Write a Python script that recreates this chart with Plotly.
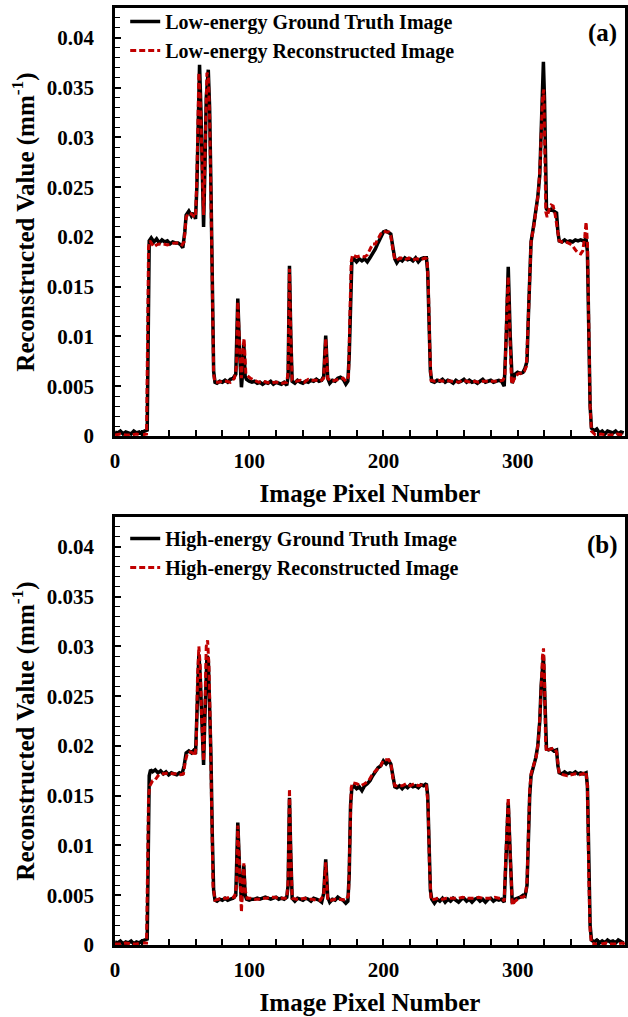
import plotly.graph_objects as go

# ---------------- data ----------------
# Panel (a) low-energy ground truth
gt_a_x = [0,2,4,6,8,10,12,14,16,18,20,22,24,25.5,27,29,31,33,35,37,39,41,43,45,47,49,50.5,52,53,55,57,58.5,60,61,63,64,65,66,67,68,69.5,70.5,71.5,72.5,73.5,74.5,76,78,80,82,84,86,88,90,91.5,93,94.2,95.2,96,97,98,100,102,104,106,108,110,112,114,116,118,120,122,124,126,128,129,130,131,132,134,136,138,140,142,144,146,148,150,152,154,155.5,157,158.5,160,162,164,166,168,170,172,173.5,174.5,175.5,176.5,178,180,182,184,186,188,190,192,194,196,198,200,202,204,205.5,207,208.5,210,212,214,216,218,220,222,224,226,228,230,232,233,234,235,236,238,240,242,244,246,248,250,252,254,256,258,260,262,264,266,268,270,272,274,276,278,280,282,284,286,288,290,291.5,293,294.5,296,298,300,302,304,305.5,307,308,309,310,312,313.5,315,316.5,317.5,318.5,319.2,320,320.8,321.5,323,325,327,329,330,331,333,335,337,339,341,343,345,347,349,351,352,353,354,355,357,359,361,363,365,367,369,371,373,375,377,379]
gt_a_y = [0.0004,0.0003,0.0005,0.0002,0.0004,0.0003,0.0002,0.0005,0.0003,0.0004,0.0002,0.0005,0.0006,0.0196,0.0199,0.0195,0.0198,0.0194,0.0197,0.0195,0.0196,0.0193,0.0195,0.0194,0.0194,0.0192,0.0189,0.0205,0.0222,0.0226,0.0221,0.0224,0.0218,0.0250,0.0373,0.0330,0.0260,0.0210,0.0270,0.0340,0.0368,0.0330,0.0250,0.0150,0.0065,0.0054,0.0053,0.0055,0.0054,0.0056,0.0054,0.0057,0.0058,0.0062,0.0138,0.0080,0.0049,0.0065,0.0092,0.0060,0.0057,0.0055,0.0054,0.0055,0.0053,0.0054,0.0052,0.0054,0.0053,0.0055,0.0052,0.0054,0.0053,0.0052,0.0054,0.0051,0.0060,0.0171,0.0100,0.0055,0.0053,0.0056,0.0054,0.0053,0.0055,0.0054,0.0056,0.0055,0.0057,0.0055,0.0056,0.0060,0.0101,0.0058,0.0053,0.0056,0.0055,0.0058,0.0059,0.0057,0.0052,0.0055,0.0080,0.0150,0.0176,0.0178,0.0175,0.0178,0.0176,0.0178,0.0175,0.0179,0.0183,0.0188,0.0194,0.0200,0.0205,0.0206,0.0204,0.0203,0.0190,0.0178,0.0174,0.0178,0.0176,0.0179,0.0177,0.0178,0.0176,0.0179,0.0175,0.0178,0.0179,0.0179,0.0165,0.0110,0.0065,0.0055,0.0054,0.0056,0.0055,0.0057,0.0054,0.0056,0.0055,0.0053,0.0056,0.0054,0.0055,0.0057,0.0054,0.0056,0.0054,0.0055,0.0053,0.0055,0.0057,0.0054,0.0055,0.0056,0.0054,0.0055,0.0056,0.0055,0.0050,0.0100,0.0170,0.0100,0.0053,0.0062,0.0064,0.0063,0.0064,0.0068,0.0075,0.0120,0.0170,0.0195,0.0212,0.0225,0.0240,0.0262,0.0310,0.0370,0.0376,0.0340,0.0250,0.0228,0.0226,0.0228,0.0226,0.0224,0.0205,0.0196,0.0195,0.0197,0.0195,0.0196,0.0195,0.0197,0.0196,0.0197,0.0196,0.0198,0.0185,0.0100,0.0030,0.0008,0.0005,0.0007,0.0003,0.0005,0.0002,0.0005,0.0004,0.0003,0.0005,0.0002,0.0004,0.0003]

# Panel (a) low-energy reconstruction
rec_a_x = [0,4,8,12,16,20,23.5,25,26,27.5,29,31,33,36,39,42,45,48,50,51.5,53,55,57,58.5,60,61,62.5,63.5,65,66,67,68.5,69.5,70.5,71.5,72.5,73.5,74.5,77,80,83,86,89,90.5,91.5,93,94.2,95.5,96.2,97.5,99,101,104,107,110,113,116,119,122,125,128,129,130,131,132,135,138,141,144,147,150,153,155.5,157,158.5,161,164,167,170,172,174,175,176,177,180,183,186,188,190,192,194,196,198,200,202,204,205.5,207,208.5,210,213,216,219,222,225,228,231,232.5,233.5,234.5,235.5,238,241,244,247,250,253,256,259,262,265,268,271,274,277,280,283,286,289,290.5,292,293,294,295.5,297,299,301,303,305,306.5,308,309,310,312,314,315.5,317,318.5,319.5,320.3,321,322,323.5,325,326.5,328,329.5,331,333,336,339,341,343,345,347,348.5,350,351,352,353,354,355,358,362,366,370,374,378,380]
rec_a_y = [0.0001,0.0002,0.0001,0.0001,0.0002,0.0001,0.0002,0.0190,0.0196,0.0193,0.0190,0.0192,0.0193,0.0193,0.0192,0.0193,0.0194,0.0194,0.0192,0.0195,0.0220,0.0224,0.0223,0.0221,0.0220,0.0260,0.0365,0.0340,0.0270,0.0222,0.0280,0.0365,0.0362,0.0320,0.0240,0.0140,0.0062,0.0054,0.0054,0.0055,0.0055,0.0054,0.0058,0.0070,0.0135,0.0085,0.0058,0.0090,0.0098,0.0062,0.0060,0.0058,0.0056,0.0054,0.0055,0.0054,0.0053,0.0054,0.0054,0.0053,0.0054,0.0065,0.0168,0.0100,0.0056,0.0055,0.0056,0.0054,0.0057,0.0056,0.0056,0.0055,0.0058,0.0098,0.0058,0.0055,0.0056,0.0057,0.0058,0.0055,0.0060,0.0120,0.0175,0.0182,0.0180,0.0181,0.0180,0.0182,0.0188,0.0193,0.0193,0.0198,0.0203,0.0206,0.0205,0.0205,0.0201,0.0188,0.0177,0.0177,0.0179,0.0177,0.0179,0.0177,0.0178,0.0177,0.0179,0.0178,0.0150,0.0090,0.0056,0.0055,0.0056,0.0055,0.0056,0.0055,0.0055,0.0054,0.0056,0.0055,0.0054,0.0055,0.0054,0.0055,0.0055,0.0055,0.0055,0.0055,0.0056,0.0060,0.0130,0.0160,0.0110,0.0052,0.0056,0.0061,0.0063,0.0063,0.0065,0.0070,0.0120,0.0170,0.0195,0.0210,0.0228,0.0245,0.0280,0.0340,0.0348,0.0290,0.0225,0.0220,0.0228,0.0232,0.0231,0.0222,0.0208,0.0196,0.0195,0.0195,0.0193,0.0191,0.0187,0.0184,0.0183,0.0186,0.0200,0.0215,0.0195,0.0110,0.0030,0.0005,0.0001,0.0002,0.0001,0.0001,0.0002,0.0001,0.0001]

# Panel (b) high-energy ground truth
gt_b_x = [0,2,4,6,8,10,12,14,16,18,20,22,24,25.5,26.5,28,30,32,34,36,38,40,42,44,46,48,50,51.5,53,55,57,59,60,61,62.5,63.5,64.5,66,67,68.5,69.5,70.5,71.5,72.5,73.5,74.5,76,78,80,82,84,86,88,90,91.5,93,94.2,95.2,96,97,98,100,102,104,106,108,110,112,114,116,118,120,122,124,126,128,129,130,131,132,134,136,138,140,142,144,146,148,150,152,154,155.5,157,158.5,160,162,164,166,168,170,172,173.5,174.5,175.5,176.5,178,180,182,184,186,188,190,192,194,196,198,200,202,204,205.5,207,208.5,210,212,214,216,218,220,222,224,226,228,230,232,233,234,235,236,238,240,242,244,246,248,250,252,254,256,258,260,262,264,266,268,270,272,274,276,278,280,282,284,286,288,290,291.5,293,294.5,296,298,300,302,304,305.5,307,308,309,310,312,313.5,315,316.5,317.5,318.5,319.2,320,320.8,321.5,323,325,327,329,330,331,333,335,337,339,341,343,345,347,349,351,352,353,354,355,357,359,361,363,365,367,369,371,373,375,377,379]
gt_b_y = [0.0003,0.0002,0.0004,0.0001,0.0003,0.0002,0.0004,0.0001,0.0003,0.0002,0.0004,0.0005,0.0006,0.0170,0.0176,0.0174,0.0176,0.0173,0.0175,0.0172,0.0174,0.0171,0.0173,0.0172,0.0171,0.0173,0.0172,0.0180,0.0193,0.0195,0.0193,0.0196,0.0192,0.0230,0.0292,0.0270,0.0230,0.0181,0.0230,0.0290,0.0288,0.0250,0.0190,0.0110,0.0055,0.0045,0.0044,0.0046,0.0045,0.0047,0.0045,0.0046,0.0047,0.0050,0.0123,0.0070,0.0044,0.0060,0.0080,0.0050,0.0046,0.0045,0.0046,0.0046,0.0047,0.0046,0.0047,0.0048,0.0047,0.0046,0.0047,0.0048,0.0046,0.0047,0.0046,0.0048,0.0060,0.0148,0.0090,0.0047,0.0044,0.0047,0.0046,0.0045,0.0047,0.0046,0.0044,0.0047,0.0046,0.0045,0.0043,0.0052,0.0086,0.0048,0.0043,0.0046,0.0045,0.0048,0.0046,0.0045,0.0042,0.0044,0.0070,0.0140,0.0158,0.0160,0.0157,0.0159,0.0155,0.0160,0.0162,0.0165,0.0170,0.0174,0.0178,0.0180,0.0185,0.0182,0.0185,0.0182,0.0170,0.0159,0.0158,0.0160,0.0157,0.0160,0.0158,0.0161,0.0159,0.0160,0.0158,0.0161,0.0160,0.0162,0.0150,0.0100,0.0055,0.0046,0.0042,0.0046,0.0044,0.0047,0.0043,0.0046,0.0044,0.0047,0.0045,0.0043,0.0046,0.0047,0.0044,0.0046,0.0043,0.0046,0.0047,0.0044,0.0046,0.0043,0.0046,0.0047,0.0044,0.0046,0.0045,0.0046,0.0043,0.0090,0.0143,0.0090,0.0042,0.0046,0.0047,0.0048,0.0050,0.0049,0.0060,0.0110,0.0150,0.0170,0.0180,0.0188,0.0200,0.0225,0.0260,0.0285,0.0290,0.0260,0.0205,0.0197,0.0196,0.0197,0.0195,0.0196,0.0180,0.0173,0.0172,0.0174,0.0172,0.0173,0.0172,0.0174,0.0172,0.0173,0.0172,0.0173,0.0160,0.0080,0.0020,0.0005,0.0003,0.0005,0.0002,0.0004,0.0002,0.0005,0.0003,0.0004,0.0002,0.0005,0.0003,0.0002]

# Panel (b) high-energy reconstruction
rec_b_x = [0,4,8,12,16,20,23.5,25,26,28,30,32,34,37,40,43,46,49,51,52.5,54,56,58,59.5,60.5,61.5,62.5,63.5,64.5,66,67,68,69,70,71,72,73,74.5,77,80,83,86,89,90.5,91.5,93,94.2,95.2,96,97,98.5,101,104,107,110,113,116,119,122,125,128,129,130,131,132,135,138,141,144,147,150,153,155.5,157,158.5,161,164,167,170,172,174,175,176,177,180,183,186,189,192,195,198,200,202,204,205.5,207,208.5,211,214,217,220,223,226,229,232,233.3,234.3,235.5,238,241,244,247,250,253,256,259,262,265,268,271,274,277,280,283,286,288.5,290,291.5,293,294.5,296,298,300,302,304,306,307,308,309,310,312,314,315.5,317,318.5,319.3,320,320.8,321.5,323,325,327,329,330,331,334,337,340,343,346,349,351,352,353,354,355,358,362,366,370,374,378,380]
rec_b_y = [0.0001,0.0001,0.0002,0.0001,0.0001,0.0002,0.0002,0.0150,0.0160,0.0165,0.0166,0.0170,0.0172,0.0172,0.0173,0.0172,0.0172,0.0171,0.0172,0.0185,0.0193,0.0194,0.0193,0.0190,0.0200,0.0270,0.0300,0.0280,0.0230,0.0185,0.0240,0.0300,0.0306,0.0280,0.0220,0.0130,0.0060,0.0045,0.0046,0.0047,0.0047,0.0048,0.0048,0.0060,0.0120,0.0060,0.0033,0.0065,0.0082,0.0055,0.0047,0.0047,0.0046,0.0046,0.0047,0.0047,0.0048,0.0048,0.0047,0.0047,0.0047,0.0065,0.0157,0.0090,0.0047,0.0046,0.0046,0.0047,0.0046,0.0046,0.0045,0.0045,0.0050,0.0083,0.0045,0.0045,0.0046,0.0046,0.0045,0.0045,0.0050,0.0110,0.0158,0.0163,0.0162,0.0160,0.0162,0.0165,0.0172,0.0176,0.0180,0.0186,0.0186,0.0186,0.0183,0.0168,0.0160,0.0160,0.0160,0.0162,0.0160,0.0162,0.0160,0.0161,0.0160,0.0140,0.0080,0.0045,0.0046,0.0047,0.0046,0.0047,0.0047,0.0047,0.0047,0.0048,0.0047,0.0047,0.0047,0.0048,0.0047,0.0047,0.0047,0.0048,0.0047,0.0047,0.0044,0.0100,0.0148,0.0090,0.0040,0.0044,0.0046,0.0048,0.0048,0.0050,0.0065,0.0115,0.0155,0.0172,0.0180,0.0190,0.0205,0.0240,0.0290,0.0298,0.0270,0.0205,0.0194,0.0196,0.0197,0.0198,0.0194,0.0180,0.0172,0.0171,0.0170,0.0171,0.0172,0.0171,0.0172,0.0174,0.0160,0.0070,0.0015,0.0002,0.0001,0.0001,0.0002,0.0001,0.0001,0.0002,0.0001]

y_tick_vals = [0, 0.005, 0.01, 0.015, 0.02, 0.025, 0.03, 0.035, 0.04]
y_tick_text = ["0", "0.005", "0.01", "0.015", "0.02", "0.025", "0.03", "0.035", "0.04"]
x_tick_vals = [0, 100, 200, 300]
x_tick_text = ["0", "100", "200", "300"]

# ---------------- figure ----------------
FONT = "Liberation Serif"
BLACK = "#000000"
RED = "#C00000"

fig = go.Figure()
fig.add_trace(go.Scatter(x=gt_a_x, y=gt_a_y, mode="lines", name="<b>Low-energy Ground Truth Image</b>",
                         line=dict(color=BLACK, width=3.5), xaxis="x", yaxis="y", legend="legend"))
fig.add_trace(go.Scatter(x=rec_a_x, y=rec_a_y, mode="lines", name="<b>Low-energy Reconstructed Image</b>",
                         line=dict(color=RED, width=3, dash="6px,3px"), xaxis="x", yaxis="y", legend="legend"))
fig.add_trace(go.Scatter(x=gt_b_x, y=gt_b_y, mode="lines", name="<b>High-energy Ground Truth Image</b>",
                         line=dict(color=BLACK, width=3.5), xaxis="x2", yaxis="y2", legend="legend2"))
fig.add_trace(go.Scatter(x=rec_b_x, y=rec_b_y, mode="lines", name="<b>High-energy Reconstructed Image</b>",
                         line=dict(color=RED, width=3, dash="6px,3px"), xaxis="x2", yaxis="y2", legend="legend2"))

H = 1017.0
dom_a = [1 - 436 / H, 1 - 8 / H]
dom_b = [1 - 945 / H, 1 - 517 / H]

def xaxis_style(anchor):
    return dict(
        range=[0, 380], anchor=anchor, domain=[0, 1], automargin=False,
        showline=True, linecolor="black", linewidth=2.5, mirror=True,
        ticks="inside", ticklen=6, tickwidth=1.5, tickcolor="black",
        tickvals=x_tick_vals, ticktext=x_tick_text,
        minor=dict(ticks="inside", ticklen=6, tickwidth=1.5, tickcolor="black", dtick=20, tick0=0),
        showgrid=False, zeroline=False, ticklabelstandoff=4,
        tickfont=dict(family=FONT, size=21, color="black", weight="bold"),
        title=dict(text="<b>Image Pixel Number</b>", font=dict(family=FONT, size=25, color="black"), standoff=13),
    )

def yaxis_style(anchor, dom):
    return dict(
        range=[0, 0.043], anchor=anchor, domain=dom, automargin=False,
        showline=True, linecolor="black", linewidth=2.5, mirror=True,
        ticks="inside", ticklen=6, tickwidth=1.5, tickcolor="black",
        tickvals=y_tick_vals, ticktext=y_tick_text,
        minor=dict(ticks="inside", ticklen=5, tickwidth=1.2, tickcolor="black", dtick=0.001, tick0=0),
        showgrid=False, zeroline=False, ticklabelstandoff=14,
        tickfont=dict(family=FONT, size=21, color="black", weight="bold"),
        title=dict(text="<b>Reconstructed Value (mm<sup>-1</sup>)</b>", font=dict(family=FONT, size=25, color="black"), standoff=6),
    )

legend_common = dict(
    bgcolor="rgba(0,0,0,0)", borderwidth=0, xanchor="left", yanchor="top",
    font=dict(family=FONT, size=20, color="black"), itemwidth=30, tracegroupgap=0,
)

fig.update_layout(
    width=628, height=1017,
    margin=dict(l=115, r=3, t=0, b=0),
    paper_bgcolor="white", plot_bgcolor="white",
    xaxis=xaxis_style("y"),
    yaxis=yaxis_style("x", dom_a),
    xaxis2=xaxis_style("y2"),
    yaxis2=yaxis_style("x2", dom_b),
    legend=dict(x=0.02, y=1 - 2 / H, **legend_common),
    legend2=dict(x=0.02, y=1 - 519 / H, **legend_common),
    annotations=[
        dict(text="<b>(a)</b>", x=600 / 628, y=1 - 33 / H, xref="paper", yref="paper",
             xanchor="center", yanchor="middle", showarrow=False,
             font=dict(family=FONT, size=25, color="black")),
        dict(text="<b>(b)</b>", x=600 / 628, y=1 - 545 / H, xref="paper", yref="paper",
             xanchor="center", yanchor="middle", showarrow=False,
             font=dict(family=FONT, size=25, color="black")),
    ],
)

fig.write_html("out.html")
